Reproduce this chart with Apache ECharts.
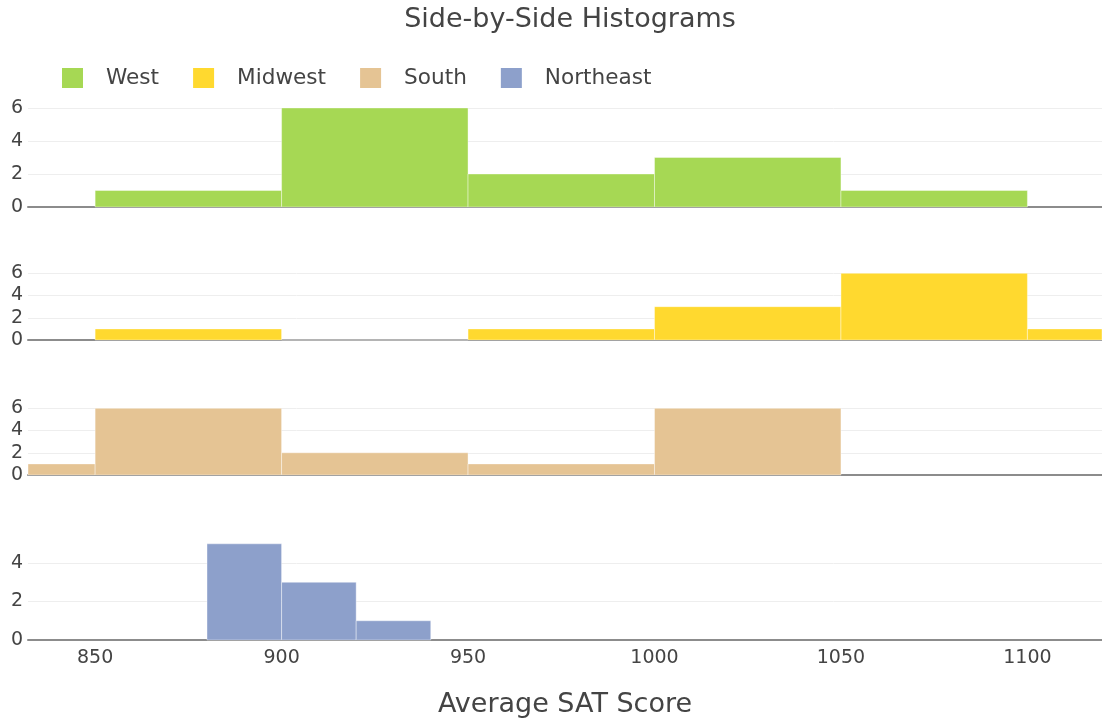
<!DOCTYPE html>
<html>
<head>
<meta charset="utf-8">
<script src="https://cdn.jsdelivr.net/npm/echarts@6/dist/echarts.min.js"></script>
<style>
  html, body { margin: 0; padding: 0; background: #fff; }
  #chart { width: 1102px; height: 721px; }
</style>
</head>
<body>
<div id="chart"></div>
<script>
// bin edges and counts for each region
const regions = ['West', 'Midwest', 'South', 'Northeast'];
const colors = ['#a6d854', '#ffd92f', '#e5c494', '#8da0cb'];

const westEdges = [850, 900, 950, 1000, 1050, 1100];
const westCounts = [1, 6, 2, 3, 1];
const midwestEdges = [850, 900, 950, 1000, 1050, 1100, 1150];
const midwestCounts = [1, 0, 1, 3, 6, 1];
const southEdges = [800, 850, 900, 950, 1000, 1050];
const southCounts = [1, 6, 2, 1, 6];
const northeastEdges = [880, 900, 920, 940];
const northeastCounts = [5, 3, 1];

const xTicks = [850, 900, 950, 1000, 1050, 1100];
const yTicks = [0, 2, 4, 6];
const yTicksNE = [0, 2, 4];

const edgesAll = [westEdges, midwestEdges, southEdges, northeastEdges];
const countsAll = [westCounts, midwestCounts, southCounts, northeastCounts];

function toBins(edges, counts) {
    return counts.map((c, i) => [edges[i], edges[i + 1], c]);
}

function renderBar(params, api) {
    const p0 = api.coord([api.value(0), 0]);
    const p1 = api.coord([api.value(1), api.value(2)]);
    const rect = echarts.graphic.clipRectByRect({
        x: p0[0], y: p1[1], width: p1[0] - p0[0], height: p0[1] - p1[1]
    }, {
        x: params.coordSys.x, y: params.coordSys.y,
        width: params.coordSys.width, height: params.coordSys.height
    });
    if (!rect) return;
    return {
        type: 'rect',
        shape: rect,
        style: { fill: api.visual('color'), stroke: '#fff', lineWidth: 0.4 }
    };
}

const grids = [
    { left: 28, right: 0, top: 103, height: 104 },
    { left: 28, right: 0, top: 270, height: 70 },
    { left: 28, right: 0, top: 405, height: 70 },
    { left: 28, right: 0, top: 539, height: 101 }
];
const yMax = [6.3, 6.3, 6.3, 5.25];
const font = 'DejaVu Sans';

const xAxes = grids.map((g, i) => ({
    type: 'value',
    gridIndex: i,
    min: 832,
    max: 1120,
    splitLine: { show: false },
    axisTick: { show: false },
    axisLine: { show: true, onZero: true, lineStyle: { color: '#8c8c8c', width: 2 } },
    axisLabel: {
        show: i === 3,
        customValues: xTicks,
        formatter: v => String(v),
        color: '#444',
        fontSize: 19,
        margin: 9,
        fontFamily: font
    },
    name: i === 3 ? 'Average SAT Score' : '',
    nameLocation: 'middle',
    nameGap: 51,
    nameTextStyle: { color: '#444', fontSize: 27, fontFamily: font }
}));

const yAxes = grids.map((g, i) => ({
    type: 'value',
    gridIndex: i,
    min: 0,
    max: yMax[i],
    interval: 2,
    axisLine: { show: false },
    axisTick: { show: false, customValues: i === 3 ? yTicksNE : yTicks },
    splitLine: { show: true, lineStyle: { color: '#eeeeee', width: 1 } },
    axisLabel: {
        customValues: i === 3 ? yTicksNE : yTicks,
        color: '#444',
        fontSize: 19,
        margin: 5,
        fontFamily: font
    }
}));

const series = regions.map((name, i) => ({
    name: name,
    type: 'custom',
    xAxisIndex: i,
    yAxisIndex: i,
    renderItem: renderBar,
    itemStyle: { color: colors[i] },
    encode: { x: [0, 1], y: 2 },
    data: toBins(edgesAll[i], countsAll[i])
}));

const chart = echarts.init(document.getElementById('chart'));
chart.setOption({
    animation: false,
    title: {
        text: 'Side-by-Side Histograms',
        left: 565,
        textAlign: 'center',
        top: 1,
        textStyle: { color: '#444', fontSize: 27, fontWeight: 'normal', fontFamily: font }
    },
    legend: {
        data: regions,
        left: 57,
        top: 62,
        icon: 'rect',
        itemWidth: 21,
        itemHeight: 20,
        itemGap: 34,
        textStyle: { color: '#444', fontSize: 21.6, fontFamily: font, padding: [0, 0, 0, 18] }
    },
    grid: grids,
    xAxis: xAxes,
    yAxis: yAxes,
    series: series
});
</script>
</body>
</html>
